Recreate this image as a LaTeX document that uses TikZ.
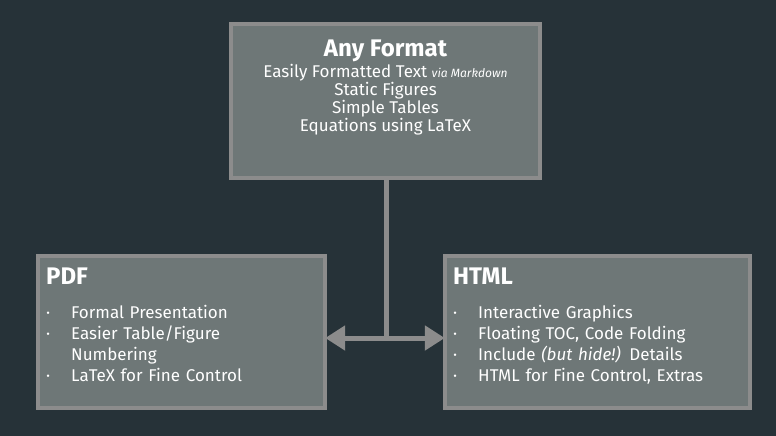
\documentclass[tikz,border=0pt]{standalone}
\usepackage{fontspec}
\setmainfont{Fira Sans}
\usetikzlibrary{arrows.meta,shadows}
\definecolor{bg}{HTML}{263238}
\definecolor{boxfill}{HTML}{6E7777}
\definecolor{boxline}{HTML}{8C8C8C}
\tikzset{
  panel/.style={draw=boxline, fill=boxfill, line width=4pt},
  txt/.style={text=white, font=\fontsize{17}{21}\selectfont, align=left, anchor=north west, inner sep=0pt},
  conn/.style={draw=boxline, line width=5pt}
}
\begin{document}
\begin{tikzpicture}[x=1pt,y=-1pt]
\useasboundingbox (0,0) rectangle (776,436);
\fill[bg] (0,0) rectangle (776,436);
\draw[panel] (231,24) rectangle (540,178) ;
\node (top) at (385.5,101) [minimum width=309pt, minimum height=154pt, inner sep=0pt] {};
\draw[panel] (38,256) rectangle (325,408);
\node (pdf) at (181.5,332) [minimum width=287pt, minimum height=152pt, inner sep=0pt] {};
\draw[panel] (445,256) rectangle (750,408);
\node (html) at (597.5,332) [minimum width=305pt, minimum height=152pt, inner sep=0pt] {};
\node[text=white, align=center, inner sep=0pt, anchor=north] (toptxt) at (385.5,40)
 {{\fontsize{24}{28}\selectfont\bfseries Any Format}\\[1pt]
  \fontsize{17}{22}\selectfont Easily Formatted Text {\itshape\fontsize{12}{14}\selectfont via Markdown}\\
  \fontsize{17}{22}\selectfont Static Figures\\
  \fontsize{17}{22}\selectfont Simple Tables\\
  \fontsize{17}{22}\selectfont Equations using LaTeX};
\node[txt] (pdft) at (46,268) {{\fontsize{24}{28}\selectfont\bfseries PDF}};
\node[txt, text width=270pt] (pdfl) at (46,305) {%
  \makebox[25pt][l]{·}Formal Presentation\\
  \makebox[25pt][l]{·}Easier Table/Figure\\
  \hspace*{25pt}Numbering\\
  \makebox[25pt][l]{·}LaTeX for Fine Control};
\node[txt] (htmlt) at (453,268) {{\fontsize{24}{28}\selectfont\bfseries HTML}};
\node[txt, text width=295pt] (htmll) at (453,305) {%
  \makebox[25pt][l]{·}Interactive Graphics\\
  \makebox[25pt][l]{·}Floating TOC, Code Folding\\
  \makebox[25pt][l]{·}Include \textit{(but hide!)} Details\\
  \makebox[25pt][l]{·}HTML for Fine Control, Extras};
\coordinate (j) at (386,338);
\draw[conn] (top.south -| j) -- (j);
\draw[conn, {Triangle[length=20pt,width=24pt]}-{Triangle[length=20pt,width=24pt]}] (pdf.east |- j) -- (html.west |- j);
\end{tikzpicture}
\end{document}
